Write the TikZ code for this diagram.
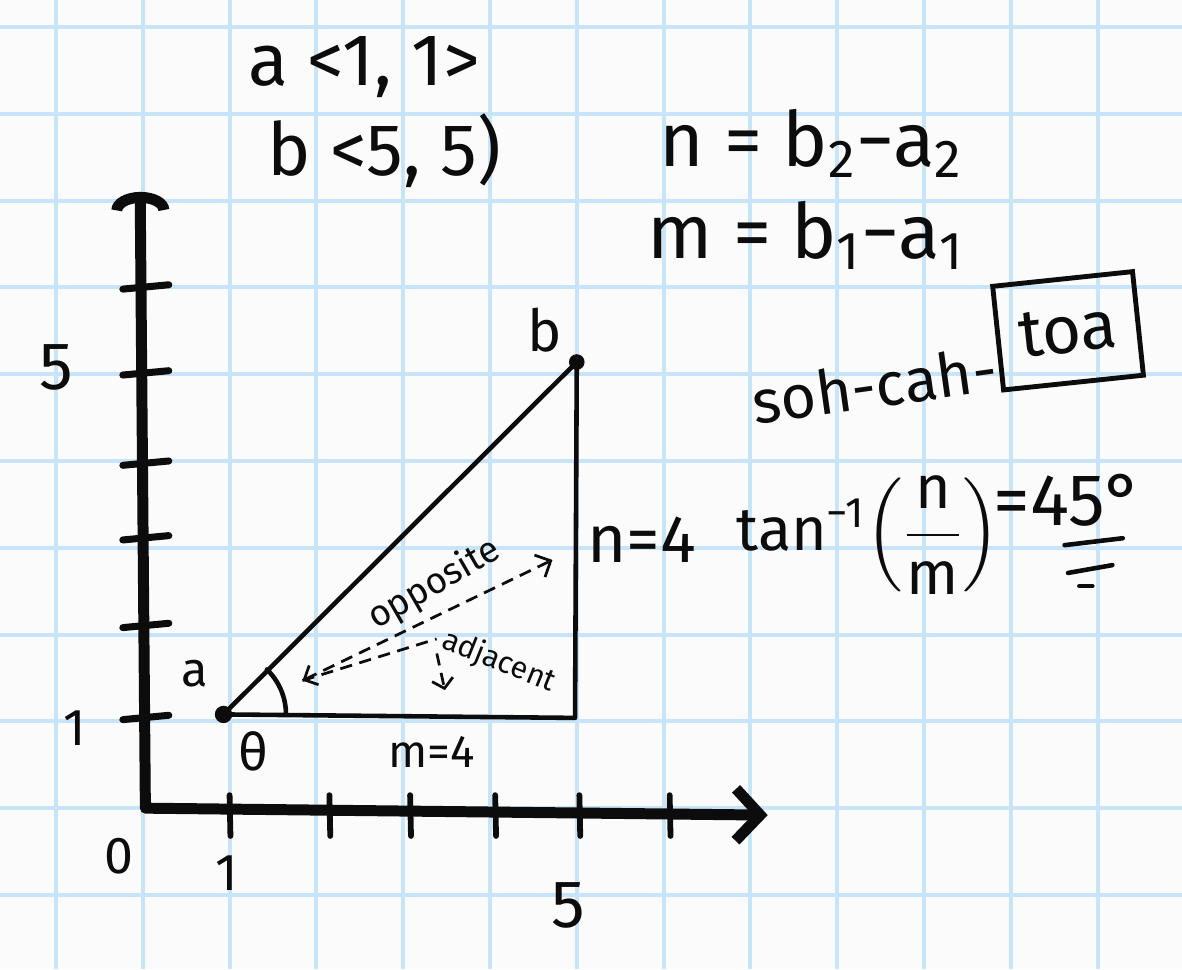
\documentclass[tikz,border=0pt]{standalone}
\usepackage{amsmath}
\usepackage{fontspec}
\setmainfont{Fira Sans}
\usetikzlibrary{arrows.meta}
\definecolor{gridblue}{RGB}{200,228,248}
\definecolor{paper}{RGB}{251,251,251}
\definecolor{ink}{RGB}{12,12,12}
\tikzset{
  inkline/.style={draw=ink, line width=1.5pt, line cap=round, line join=round},
  axisline/.style={draw=ink, line width=3.6pt, line cap=round, line join=round},
  tickmark/.style={draw=ink, line width=2.3pt, line cap=round},
  hand/.style={text=ink, inner sep=0pt, font=\fontsize{#1}{#1}\selectfont},
  hand/.default=22,
  dashedink/.style={draw=ink, line width=0.9pt, dash pattern=on 4pt off 2.5pt},
  dotnode/.style={circle, fill=ink, inner sep=0pt, minimum size=0.2cm},
}
\begin{document}
\begin{tikzpicture}
\fill[paper] (-1.645,-1.853) rectangle (11.973,9.311);
\useasboundingbox (-1.645,-1.853) rectangle (11.973,9.311);
\draw[gridblue, line width=1.3pt] (-1.645,-1.853) grid (11.973,9.311);

% axes
\coordinate (O) at (0.03,0);
\coordinate (ytop) at (-0.03,7.1);
\coordinate (xend) at (7.2,-0.08);
\draw[axisline, {Arc Barb[length=6pt,width=19pt]}-{Straight Barb[length=8pt,width=17pt]}] (ytop) -- (O) -- (xend);
\foreach \v in {1.04,2.1,3.11,3.97,5.01,6.0}
  \draw[tickmark] (-0.23,\v-0.02) -- (0.3,\v+0.03);
\foreach \u in {1.0,2.15,3.08,4.06,5.03,6.07}
  \draw[tickmark, line width=1.9pt] (\u,0.15) -- (\u+0.01,-0.32);

\node[hand=22] (ly5) at (-1.0,5.08) {5};
\node[hand=17] (ly1) at (-0.78,0.92) {1};
\node[hand=17] (l0) at (-0.28,-0.55) {0};
\node[hand=17] (lx1) at (0.97,-0.75) {1};
\node[hand=22] (lx5) at (4.9,-1.12) {5};

% triangle
\node[dotnode] (a) at (0.93,1.08) {};
\node[dotnode, minimum size=0.18cm] (b) at (5.0,5.14) {};
\coordinate (c) at (4.98,1.04);
\draw[inkline] (a.center) -- (b.center) -- (c) -- (a.center);
\draw[inkline] ([xshift=0.72cm]a.center) arc[start angle=0, end angle=46, radius=0.72cm];

\node[hand=16] (la) at (0.6,1.55) {a};
\node[hand=19] (lb) at (4.63,5.51) {b};
\node[hand=17] (th) at (1.27,0.65) {θ};
\node[hand=15] (mlab) at (3.33,0.65) {m=4};
\node[hand=22] (nlab) at (5.75,3.09) {n=4};

% opposite / adjacent
\coordinate (tip) at (1.84,1.47);
\coordinate (oppend) at (4.72,2.86);
\node[hand=12, rotate=30] (opp) at (3.36,2.58) {opposite};
\node[hand=10, rotate=-22] (adj) at (4.10,1.69) {adjacent};
\draw[dashedink, {Straight Barb[length=3.5pt,width=7pt]}-{Straight Barb[length=4pt,width=8pt]}] (tip) -- (oppend);
\draw[dashedink] (tip) -- ([xshift=-2pt]adj.west);
\coordinate (adjfoot) at (3.48,1.36);
\draw[dashedink, -{Straight Barb[length=3pt,width=7pt]}] (adj.south west) -- (adjfoot);

% top-left vectors
\node[hand=24] (va) at (2.55,8.54) {a <1, 1>};
\node[hand=24] (vb) at (2.78,7.58) {b <5, 5)};

% formulas
\node[hand=25] (fn) at (7.70,7.66) {n = b\textsubscript{2}−a\textsubscript{2}};
\node[hand=25] (fm) at (7.64,6.60) {m = b\textsubscript{1}−a\textsubscript{1}};

% soh-cah-toa
\node[hand=20, rotate=8] (soh) at (8.43,4.87) {soh-cah-};
\node[hand=22, draw=ink, line width=1.6pt, rotate=6, minimum width=1.62cm, minimum height=1.2cm] (toa) at (10.66,5.5) {toa};

% tan
\node[hand=20] (tanx) at (8.36,3.15) {tan\textsuperscript{−1}$\left(\dfrac{\text{n}}{\text{m}}\right)$};
\node[hand=24] (ans) at (10.66,3.55) {=45°};
\coordinate (u1a) at (10.62,3.03); \coordinate (u1b) at (11.29,3.11);
\coordinate (u2a) at (10.66,2.71); \coordinate (u2b) at (11.17,2.80);
\coordinate (u3a) at (10.79,2.56); \coordinate (u3b) at (10.94,2.56);
\draw[inkline] (u1a) -- (u1b);
\draw[inkline] (u2a) -- (u2b);
\draw[inkline] (u3a) -- (u3b);
\end{tikzpicture}
\end{document}
